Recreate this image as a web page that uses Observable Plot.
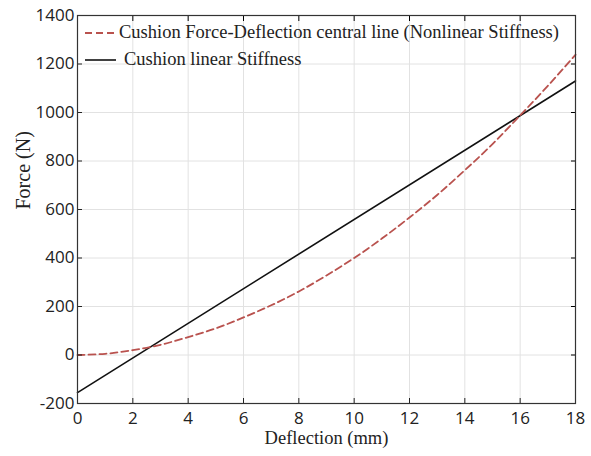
<!DOCTYPE html>
<html><head><meta charset="utf-8">
<script src="https://cdn.jsdelivr.net/npm/d3@7"></script>
<script src="https://cdn.jsdelivr.net/npm/@observablehq/plot@0.6"></script>
<style>
body{margin:0;background:#fff;}
#wrap{position:relative;width:591px;height:456px;}
#legend{position:absolute;left:84px;top:19px;font-family:"Liberation Serif","Times New Roman",serif;font-size:18.5px;color:#222;line-height:27px;}
#legend div{display:flex;align-items:center;white-space:nowrap;}
#legend svg{margin-right:2px;}
</style></head>
<body><div id="wrap"><div id="legend"></div></div>
<script>
// Data
const deflection = [0,1,2,3,4,5,6,7,8,9,10,11,12,13,14,15,16,17,18];
const nonlinearForce = [0,5,20,42,74,110,155,205,262,328,400,480,567,660,762,870,988,1110,1238];
const linearDeflection = [0,18];
const linearForce = [-155,1130];
const xTicks = [0,2,4,6,8,10,12,14,16,18];
const yTicks = [-200,0,200,400,600,800,1000,1200,1400];
const seriesNames = ["Cushion Force-Deflection central line (Nonlinear Stiffness)", "Cushion linear Stiffness"];
const xLabel = "Deflection (mm)";
const yLabel = "Force (N)";

const nonlinear = deflection.map((d,i)=>({x:d,y:nonlinearForce[i]}));
const linear = linearDeflection.map((d,i)=>({x:d,y:linearForce[i]}));
const red = "#b9524e";
const sans = "Open Sans";
const serif = "Liberation Serif";
const fmt = d => String(d);

const chart = Plot.plot({
  width: 591, height: 456,
  marginLeft: 77, marginRight: 16, marginTop: 15, marginBottom: 53,
  style: {background: "#fff"},
  x: {domain: [0,18]},
  y: {domain: [-200,1400]},
  marks: [
    Plot.gridX(xTicks, {stroke: "#e2e2e2", strokeOpacity: 1}),
    Plot.gridY(yTicks, {stroke: "#e2e2e2", strokeOpacity: 1}),
    Plot.line(linear, {x:"x", y:"y", stroke:"#111", strokeWidth:1.6}),
    Plot.line(nonlinear, {x:"x", y:"y", stroke:red, strokeWidth:1.8, strokeDasharray:"7,4", curve:"natural"}),
    Plot.axisX(xTicks, {anchor:"bottom", tickSize:-5, tickPadding:13, tickFormat:fmt, label:null, fontSize:17, fontFamily:sans, color:"#222"}),
    Plot.axisX(xTicks, {anchor:"top", tickSize:-5, tickFormat:()=>"", label:null}),
    Plot.axisY(yTicks, {anchor:"left", tickSize:-5, tickPadding:8, tickFormat:fmt, label:null, fontSize:17, fontFamily:sans, color:"#222"}),
    Plot.axisY(yTicks, {anchor:"right", tickSize:-5, tickFormat:()=>"", label:null}),
    Plot.frame({stroke:"#333", strokeWidth:1.2}),
    Plot.text([xLabel], {frameAnchor:"bottom", dy:40, fontFamily:serif, fontSize:18.5, fill:"#222"}),
    Plot.text([yLabel], {frameAnchor:"left", dx:-54, rotate:-90, fontFamily:serif, fontSize:20, fill:"#222"})
  ]
});
document.getElementById("wrap").prepend(chart);

const legend = document.getElementById("legend");
const styles = [{stroke:red, dash:"7,4", w:1.8}, {stroke:"#111", dash:null, w:1.6}];
seriesNames.forEach((name,i)=>{
  const row = document.createElement("div");
  const s = styles[i];
  row.innerHTML = `<svg width="33" height="10"><line x1="1" y1="5" x2="32" y2="5" stroke="${s.stroke}" stroke-width="${s.w}" ${s.dash?`stroke-dasharray="${s.dash}"`:""}/></svg><span style="margin-left:${i===1?5:0}px">${name}</span>`;
  legend.appendChild(row);
});
</script></body></html>
